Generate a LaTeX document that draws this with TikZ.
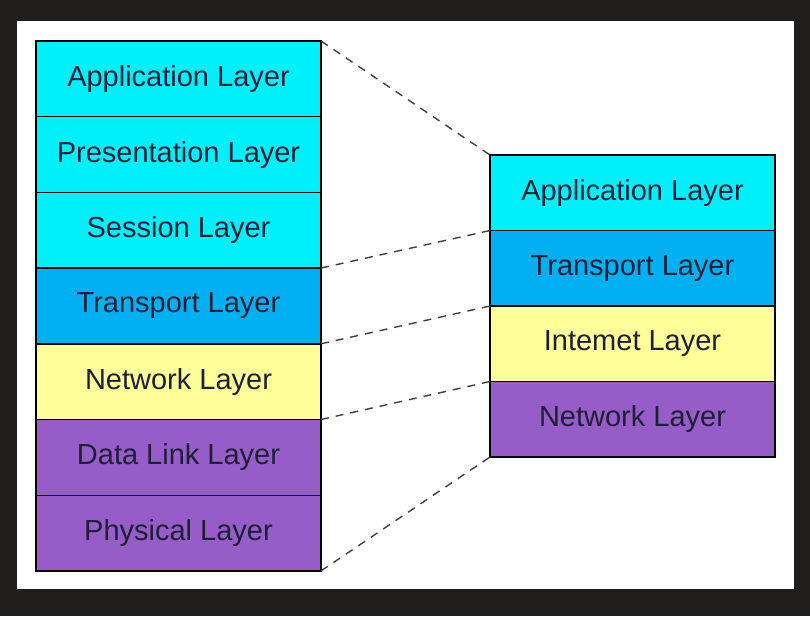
\documentclass[tikz,border=0pt]{standalone}
\usepackage{fontspec}
\setmainfont{Liberation Sans}
\usetikzlibrary{positioning}
\definecolor{framedark}{RGB}{32,31,29}
\definecolor{layercyan}{RGB}{0,240,250}
\definecolor{layerblue}{RGB}{0,176,240}
\definecolor{layeryellow}{RGB}{255,255,153}
\definecolor{layerpurple}{RGB}{150,92,200}
\definecolor{layertext}{RGB}{30,30,55}

\begin{document}
\begin{tikzpicture}[x=1pt,y=-1pt,layer/.style={draw=black,line width=1.4pt,outer sep=0pt,minimum width=285pt,minimum height=75.7pt,inner sep=0pt,text=layertext,font=\fontsize{29}{32}\selectfont},map/.style={draw=black!75,line width=1.4pt,dash pattern=on 8pt off 7pt}]

\fill[framedark] (0,0) rectangle (810,616);
\fill[white] (17,21) rectangle (794,589);

% OSI model
\node[layer,fill=layercyan,anchor=north west] (osi7) at(36,41) {Application Layer};
\node[layer,fill=layercyan,below=0pt of osi7] (osi6) {Presentation Layer};
\node[layer,fill=layercyan,below=0pt of osi6] (osi5) {Session Layer};
\node[layer,fill=layerblue,below=0pt of osi5] (osi4) {Transport Layer};
\node[layer,fill=layeryellow,below=0pt of osi4] (osi3) {Network Layer};
\node[layer,fill=layerpurple,below=0pt of osi3] (osi2) {Data Link Layer};
\node[layer,fill=layerpurple,below=0pt of osi2] (osi1) {Physical Layer};

% TCP/IP model
\node[layer,fill=layercyan,anchor=north west,minimum height=75.5pt] (tcp4) at(490,155) {Application Layer};
\node[layer,fill=layerblue,minimum height=75.5pt,below=0pt of tcp4] (tcp3) {Transport Layer};
\node[layer,fill=layeryellow,minimum height=75.5pt,below=0pt of tcp3] (tcp2) {Intemet Layer};
\node[layer,fill=layerpurple,minimum height=75.5pt,below=0pt of tcp2] (tcp1) {Network Layer};

\draw[map] (osi7.north east)--(tcp4.north west);\draw[map] (osi5.south east)--(tcp3.north west);
\draw[map] (osi4.south east)--(tcp2.north west);\draw[map] (osi3.south east)--(tcp1.north west);
\draw[map] (osi1.south east)--(tcp1.south west);

\useasboundingbox (0,0) rectangle (810,616);
\end{tikzpicture}
\end{document}
